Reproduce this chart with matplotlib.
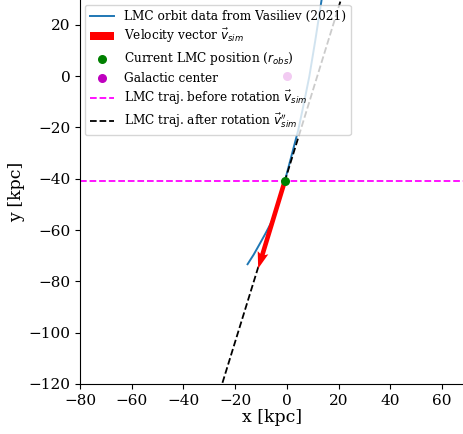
import matplotlib
matplotlib.use("Agg")
import matplotlib.pyplot as plt

# LMC orbit (Vasiliev 2021)
orbit_x = [-15.2, -12.8, -10.4, -8.2, -5.9, -3.3, -0.8, 1.8, 4.4, 6.6, 8.7, 11.0, 13.4, 14.6]
orbit_y = [-73.3, -69.5, -65.2, -61.2, -56.8, -49.5, -40.9, -31.0, -21.0, -10.5, 0.0, 14.0, 29.6, 37.0]

# current LMC position and velocity vector
r_obs = (-0.8, -40.9)
v_sim = (-10.3, -34.1)

# trajectory after rotation (straight line)
after_x = [-26.0, 22.0]
after_y = [-123.1, 33.4]

# trajectory before rotation (horizontal)
before_y = -40.9

gc = (0.0, 0.0)

plt.rcParams['font.family'] = ['DejaVu Serif']
plt.rcParams['mathtext.fontset'] = 'dejavusans'

fig = plt.figure(figsize=(4.64, 4.34), dpi=100)
ax = fig.add_axes([80/464, 50/434, 384/464, 384/434])
ax.set_xlim(-80, 68.5)
ax.set_ylim(-120, 29.7)
ax.spines['top'].set_visible(False)
ax.spines['right'].set_visible(False)

h_orbit, = ax.plot(orbit_x, orbit_y, color='C0', lw=1.4, zorder=2,
                   label='LMC orbit data from Vasiliev (2021)')
h_after, = ax.plot(after_x, after_y, 'k--', lw=1.3, zorder=3,
                   label=r"LMC traj. after rotation $\vec{v}^{\prime\prime}_{sim}$")
h_before = ax.axhline(before_y, color='magenta', ls='--', lw=1.3, zorder=2,
                      label=r"LMC traj. before rotation $\vec{v}_{sim}$")
h_q = ax.quiver([r_obs[0]], [r_obs[1]], [v_sim[0]], [v_sim[1]], angles='xy',
                scale_units='xy', scale=1, color='red', width=0.012,
                headwidth=2.4, headlength=3.6, headaxislength=3.2, zorder=4,
                label=r"Velocity vector $\vec{v}_{sim}$")
h_g = ax.scatter([r_obs[0]], [r_obs[1]], color='green', s=30, zorder=5,
                 label=r"Current LMC position ($r_{obs}$)")
h_m = ax.scatter([gc[0]], [gc[1]], color='m', s=30, zorder=5,
                 label='Galactic center')

ax.set_xticks([-80, -60, -40, -20, 0, 20, 40, 60])
ax.set_yticks([-120, -100, -80, -60, -40, -20, 0, 20])
ax.tick_params(labelsize=11)
ax.set_xlabel('x [kpc]', fontsize=12.5, labelpad=1)
ax.set_ylabel('y [kpc]', fontsize=12.5, labelpad=2)

ax.legend(handles=[h_orbit, h_q, h_g, h_m, h_before, h_after],
          loc='upper left', bbox_to_anchor=(85/464, 1 - 5/434),
          bbox_transform=fig.transFigure, borderaxespad=0, fontsize=8.7,
          labelspacing=0.38)

fig.savefig('out.png', dpi=100)
